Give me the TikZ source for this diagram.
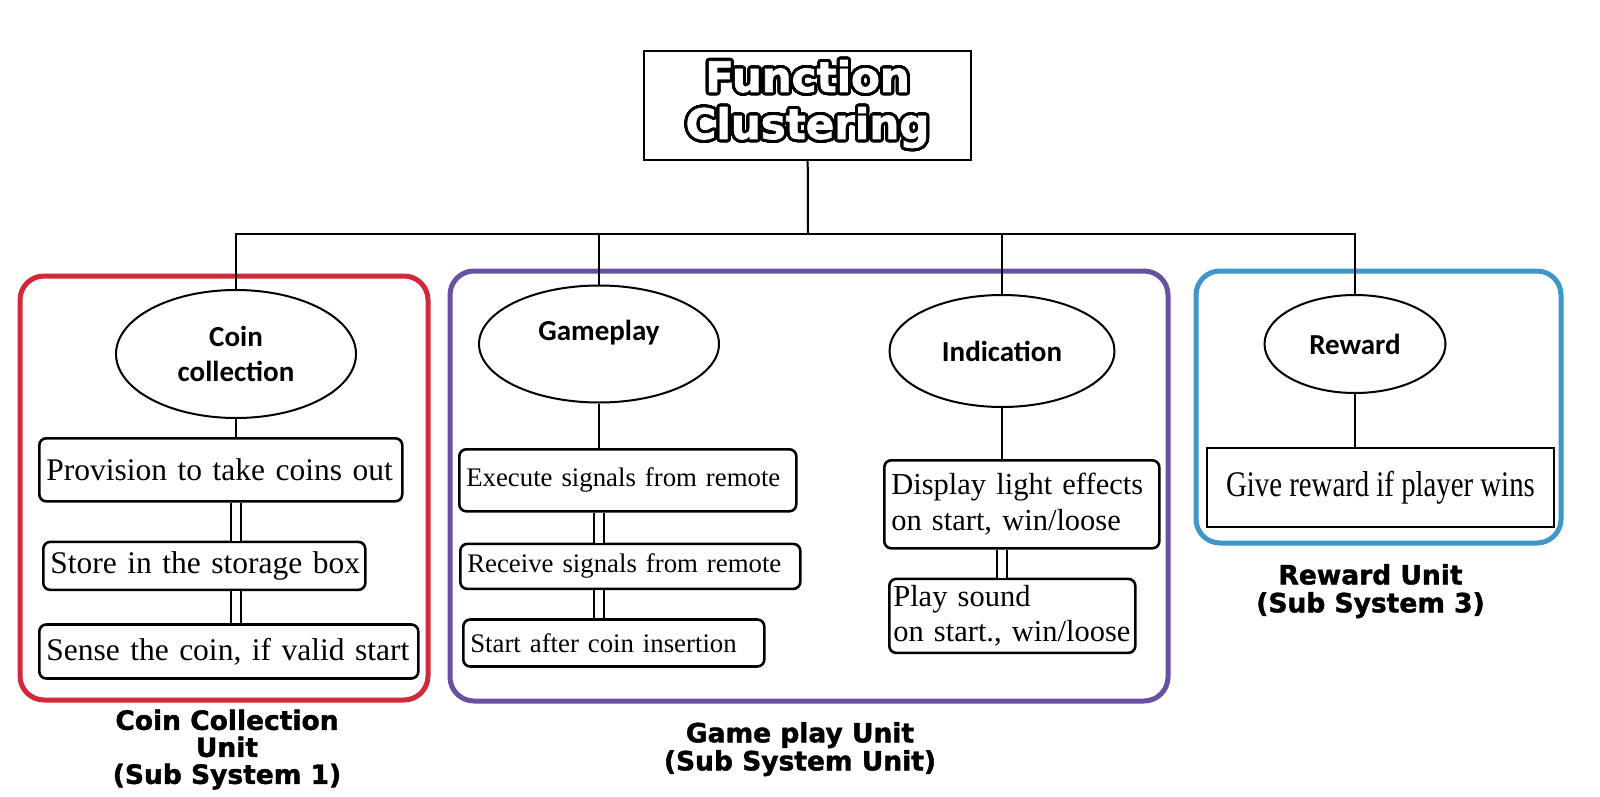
\documentclass[tikz,border=0pt]{standalone}
\usepackage{fontspec}
\setmainfont{Liberation Serif}
\newfontfamily\ovalfont{Carlito}
\newfontfamily\unitfont{DejaVu Sans}[BoldFeatures={FakeBold=1.6}]
\newfontfamily\narrowserif[FakeStretch=0.8]{Liberation Serif}
\usepackage{contour}
\contourlength{3pt}
\contournumber{48}
\usetikzlibrary{positioning,shapes.geometric}
\definecolor{unitred}{RGB}{212,40,58}
\definecolor{unitpurple}{RGB}{104,80,162}
\definecolor{unitblue}{RGB}{62,151,200}
\tikzset{
  oval/.style={ellipse, draw, line width=2pt, inner sep=0pt, align=center,
    font=\ovalfont\bfseries\fontsize{29}{35}\selectfont},
  stepbox/.style={draw, line width=2.6pt, rounded corners=7pt, inner xsep=7pt,
    inner ysep=0pt, align=left, font=\fontsize{31.5}{37}\selectfont},
  unitframe/.style={draw=#1, line width=5pt, rounded corners=24pt, inner sep=0pt},
  unitlabel/.style={font=\unitfont\bfseries\fontsize{26.5}{28}\selectfont,
    align=center, inner sep=0pt},
  link/.style={line width=2pt},
  dbl/.style={double, double distance=8pt, line width=1.8pt},
}
\begin{document}
\begin{tikzpicture}[x=1pt,y=-1pt]
  \useasboundingbox (0,0) rectangle (1600,797);

  \node[unitframe=unitred, minimum width=408pt, minimum height=424pt] (coinunit) at (224,488) {};
  \node[unitframe=unitpurple, minimum width=718pt, minimum height=430pt] (gameunit) at (809,486) {};
  \node[unitframe=unitblue, minimum width=365pt, minimum height=272pt] (rewardunit) at (1378.5,407) {};

  \node[draw, line width=2.4pt, minimum width=327pt, minimum height=109pt, text=white, align=center,
    font=\unitfont\bfseries\fontsize{42}{47}\selectfont] (title) at (807.5,105.5)
    {\contour{black}{Function}\\\contour{black}{Clustering}};

  \node[oval, minimum width=240pt, minimum height=128pt] (coin) at (236,354) {Coin\\collection};
  \node[oval, minimum width=240pt, minimum height=117pt] (game) at (599,344) {\raisebox{27pt}{Gameplay}};
  \node[oval, minimum width=225pt, minimum height=112pt] (ind) at (1002,351) {Indication};
  \node[oval, minimum width=181pt, minimum height=98pt] (rew) at (1355,344) {Reward};

  \node[stepbox, anchor=north west, text width=349pt, minimum height=63pt] (prov) at (38,437) {\mbox{Provision to take coins out}};
  \node[stepbox, below right=38pt and 4pt of prov.south west, text width=308pt, minimum height=48pt] (store) {\mbox{Store in the storage box}};
  \node[stepbox, below right=32pt and -4pt of store.south west, text width=365pt, minimum height=54pt] (sense) {\mbox{Sense the coin, if valid start}};

  \node[stepbox, font=\fontsize{26.8}{33}\selectfont, anchor=north west, text width=323pt, minimum height=62pt] (exec) at (458,448) {\mbox{Execute signals from remote}};
  \node[stepbox, font=\fontsize{26.8}{33}\selectfont, below right=30pt and 1pt of exec.south west, text width=326pt, minimum height=45pt] (recv) {\mbox{Receive signals from remote}};
  \node[stepbox, font=\fontsize{26.8}{33}\selectfont, below right=28pt and 3pt of recv.south west, text width=287pt, minimum height=47pt] (start) {\mbox{Start after coin insertion}};

  \node[stepbox, font=\fontsize{30.5}{36}\selectfont, anchor=north west, text width=261pt, minimum height=88pt] (disp) at (883,459) {\mbox{Display light effects}\\\mbox{on start, win/loose}};
  \node[stepbox, font=\fontsize{30.5}{35}\selectfont, below right=28pt and 5pt of disp.south west, text width=238pt, minimum height=74pt, inner xsep=4pt] (play) {\mbox{Play sound}\\\mbox{on start., win/loose}};

  \node[draw, line width=2pt, anchor=north west, minimum width=347pt, minimum height=79pt,
    font=\narrowserif\fontsize{36}{40}\selectfont] (give) at (1206,447) {Give reward if player wins};

  \node[unitlabel, font=\unitfont\bfseries\fontsize{26.5}{27}\selectfont, below=7pt of coinunit.south, xshift=3pt] (coinlabel) {Coin Collection\\Unit\\(Sub System 1)};
  \node[unitlabel, below=18.5pt of gameunit.south, xshift=-9pt] (gamelabel) {Game play Unit\\(Sub System Unit)};
  \node[unitlabel, below=18.5pt of rewardunit.south, xshift=-8pt] (rewardlabel) {Reward Unit\\(Sub System 3)};

  \coordinate (hub) at (808,234);
  \draw[link] (title) -- (hub);
  \draw[link] (hub) -| (coin);
  \draw[link] (hub) -| (game);
  \draw[link] (hub) -| (ind);
  \draw[link] (hub) -| (rew);

  \draw[link] (coin) -- (coin |- prov.north);
  \draw[link] (game) -- (game |- exec.north);
  \draw[link] (ind) -- (ind |- disp.north);
  \draw[link] (rew) -- (rew |- give.north);

  \draw[dbl] (coin |- prov.south) -- (coin |- store.north);
  \draw[dbl] (coin |- store.south) -- (coin |- sense.north);
  \draw[dbl] (game |- exec.south) -- (game |- recv.north);
  \draw[dbl] (game |- recv.south) -- (game |- start.north);
  \draw[dbl] (ind |- disp.south) -- (ind |- play.north);
\end{tikzpicture}
\end{document}
